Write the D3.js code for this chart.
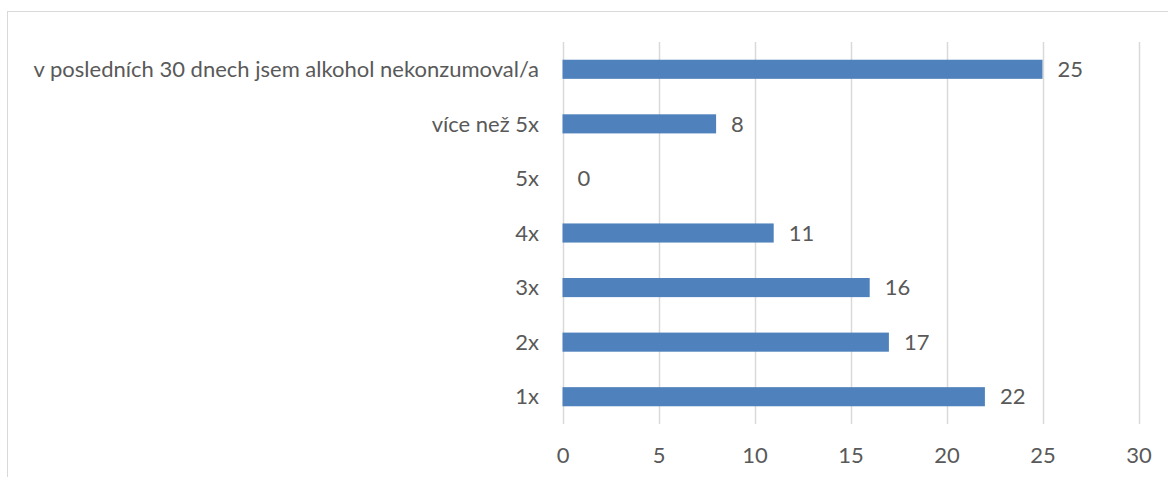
<!DOCTYPE html>
<head>
  <meta charset="utf-8">
  <title>Alkohol</title>
  <script src="https://cdn.jsdelivr.net/npm/d3@7"></script>
  <style>
    body { margin: 0; background: #fff; }
    text { font-family: Lato, "Open Sans", sans-serif; fill: #595959; }
  </style>
</head>
<body>
<script>
  var WIDTH = 1168;
  var HEIGHT = 477;

  // data, top to bottom
  var categories = ["v posledních 30 dnech jsem alkohol nekonzumoval/a", "více než 5x", "5x", "4x", "3x", "2x", "1x"];
  var values = [25, 8, 0, 11, 16, 17, 22];
  var ticks = [0, 5, 10, 15, 20, 25, 30];

  var svg = d3.select("body").append("svg")
              .attr("width", WIDTH)
              .attr("height", HEIGHT);

  // chart border
  svg.append("rect")
     .attr("x", 7.5).attr("y", 11.5)
     .attr("width", WIDTH + 10).attr("height", HEIGHT + 10)
     .attr("fill", "none").attr("stroke", "#d9d9d9");

  var x = d3.scaleLinear().domain([0, 30]).range([562.5, 1138.5]);
  var y = d3.scaleBand().domain(categories).range([42, 424]).paddingInner(0.65).paddingOuter(0.325);

  // gridlines
  svg.append("g").selectAll("line")
     .data(ticks)
     .enter().append("line")
     .attr("x1", function(d){ return Math.round(x(d)) + 0.5; })
     .attr("x2", function(d){ return Math.round(x(d)) + 0.5; })
     .attr("y1", 42).attr("y2", 424)
     .attr("stroke", "#d9d9d9").attr("stroke-width", 1.5);

  // bars
  svg.append("g").selectAll("rect")
     .data(values)
     .enter().append("rect")
     .attr("x", x(0))
     .attr("y", function(d, i){ return y(categories[i]); })
     .attr("width", function(d){ return x(d) - x(0); })
     .attr("height", y.bandwidth())
     .attr("fill", "#4f81bd");

  // value labels
  svg.append("g").selectAll("text")
     .data(values)
     .enter().append("text")
     .attr("x", function(d){ return x(d) + 15; })
     .attr("y", function(d, i){ return y(categories[i]) + y.bandwidth() / 2; })
     .attr("dy", "0.35em")
     .attr("font-size", 22)
     .text(function(d){ return d; });

  // category labels
  svg.append("g").selectAll("text")
     .data(categories)
     .enter().append("text")
     .attr("x", 539)
     .attr("y", function(d){ return y(d) + y.bandwidth() / 2; })
     .attr("dy", "0.35em")
     .attr("text-anchor", "end")
     .attr("font-size", 22)
     .text(function(d){ return d; });

  // x axis labels
  var xAxis = d3.axisBottom(x).tickValues(ticks).tickSize(0).tickPadding(0);
  var gx = svg.append("g").attr("transform", "translate(0,447)").call(xAxis);
  gx.select(".domain").remove();
  gx.attr("font-family", null).attr("font-size", null);
  gx.selectAll("text")
    .attr("font-size", 22)
    .attr("fill", "#595959")
    .attr("dy", "0.71em");
</script>
</body>
